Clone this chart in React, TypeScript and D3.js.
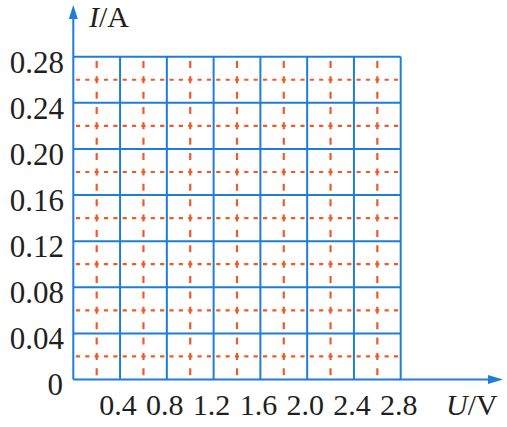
import React from "react";
import * as d3 from "d3";

const uTicks = [0.4, 0.8, 1.2, 1.6, 2.0, 2.4, 2.8];
const uTickLabels = ["0.4", "0.8", "1.2", "1.6", "2.0", "2.4", "2.8"];
const iTicks = [0.04, 0.08, 0.12, 0.16, 0.2, 0.24, 0.28];
const iTickLabels = ["0.04", "0.08", "0.12", "0.16", "0.20", "0.24", "0.28"];
const uMinor = [0.2, 0.6, 1.0, 1.4, 1.8, 2.2, 2.6];
const iMinor = [0.02, 0.06, 0.1, 0.14, 0.18, 0.22, 0.26];

const BLUE = "#1d7ed6";
const ORANGE = "#f05a28";
const FONT = "'Liberation Serif', 'Times New Roman', serif";

export default function App() {
  const x = d3.scaleLinear().domain([0, 2.8]).range([73.3, 400.7]);
  const y = d3.scaleLinear().domain([0, 0.28]).range([379.5, 56.7]);
  const x0 = x(0), x1 = x(2.8), y0 = y(0), y1 = y(0.28);
  const cellW = x(0.4) - x(0);
  const cellH = y(0) - y(0.04);
  const hPeriod = cellW / 5;
  const hDash = 4.2;
  const vPeriod = cellH / 3;
  const vDash = 7;
  const hOffset = -(hPeriod - hDash / 2 - ((cellW / 2) % hPeriod));
  const vOffset = -(vPeriod - vDash / 2 - ((cellH / 2) % vPeriod));
  return (
    <svg width={507} height={427} style={{ position: "absolute", left: 0, top: 0, background: "#fff" }}>
      {iMinor.map((v) => (
        <line key={"h" + v} x1={x0} x2={x1} y1={y(v)} y2={y(v)} stroke={ORANGE} strokeWidth={2.2}
          strokeDasharray={`${hDash} ${hPeriod - hDash}`} strokeDashoffset={hOffset} />
      ))}
      {uMinor.map((v) => (
        <line key={"v" + v} x1={x(v)} x2={x(v)} y1={y0} y2={y1} stroke={ORANGE} strokeWidth={2.2}
          strokeDasharray={`${vDash} ${vPeriod - vDash}`} strokeDashoffset={vOffset} />
      ))}
      {iTicks.map((v) => (
        <line key={"bh" + v} x1={x0} x2={x1} y1={y(v)} y2={y(v)} stroke={BLUE} strokeWidth={2} />
      ))}
      {uTicks.map((v) => (
        <line key={"bv" + v} x1={x(v)} x2={x(v)} y1={y0} y2={y1} stroke={BLUE} strokeWidth={2} />
      ))}
      <line x1={x0} x2={x0} y1={y0} y2={16} stroke={BLUE} strokeWidth={2} />
      <polygon points={`${x0},5 ${x0 - 4.5},19 ${x0 + 4.5},19`} fill={BLUE} />
      <line x1={x0} x2={490} y1={y0} y2={y0} stroke={BLUE} strokeWidth={2} />
      <polygon points={`503,${y0} 488,${y0 - 4.5} 488,${y0 + 4.5}`} fill={BLUE} />
      <g fontFamily={FONT} fontSize={30} fill="#231f20">
        {uTicks.map((v, i) => (
          <text key={"xl" + v} x={x(v) - 2} y={415} textAnchor="middle">{uTickLabels[i]}</text>
        ))}
        {iTicks.map((v, i) => (
          <text key={"yl" + v} x={64} y={y(v) + 16} textAnchor="end" fontSize={31}>{iTickLabels[i]}</text>
        ))}
        <text x={63} y={395} textAnchor="end" fontSize={31}>0</text>
        <text x={89} y={27}><tspan fontStyle="italic">I</tspan>/A</text>
        <text x={446} y={415}><tspan fontStyle="italic">U</tspan>/V</text>
      </g>
    </svg>
  );
}
